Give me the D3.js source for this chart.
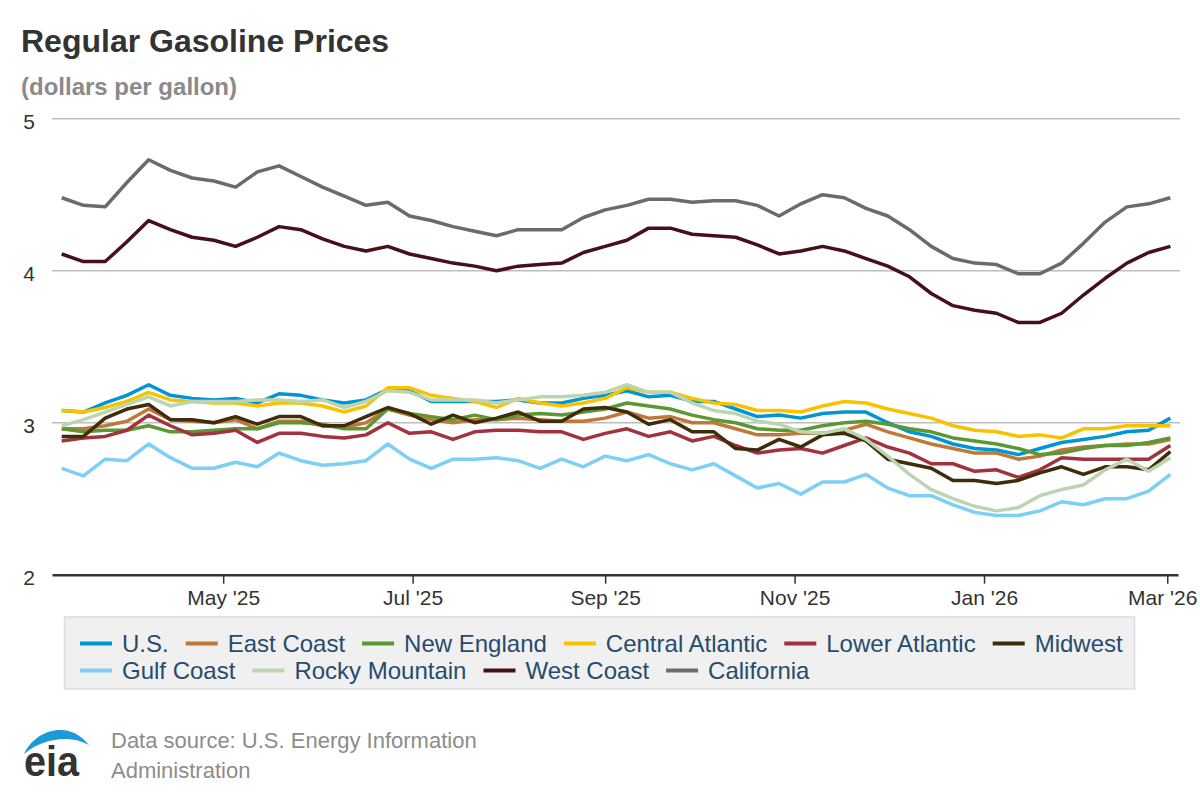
<!DOCTYPE html>
<html>
<head>
<meta charset="utf-8">
<script src="https://cdn.jsdelivr.net/npm/d3@7"></script>
<style>
  body { margin: 0; background: #fff; }
  svg { display: block; font-family: "Liberation Sans", Arial, sans-serif; }
</style>
</head>
<body>
<div class="chart"></div>
<script>
// weekly dates (Mondays)
var weeks = ["2025-03-10","2025-03-17","2025-03-24","2025-03-31","2025-04-07","2025-04-14","2025-04-21","2025-04-28",
  "2025-05-05","2025-05-12","2025-05-19","2025-05-26","2025-06-02","2025-06-09","2025-06-16","2025-06-23","2025-06-30",
  "2025-07-07","2025-07-14","2025-07-21","2025-07-28","2025-08-04","2025-08-11","2025-08-18","2025-08-25",
  "2025-09-01","2025-09-08","2025-09-15","2025-09-22","2025-09-29","2025-10-06","2025-10-13","2025-10-20","2025-10-27",
  "2025-11-03","2025-11-10","2025-11-17","2025-11-24","2025-12-01","2025-12-08","2025-12-15","2025-12-22","2025-12-29",
  "2026-01-05","2026-01-12","2026-01-19","2026-01-26","2026-02-02","2026-02-09","2026-02-16","2026-02-23","2026-03-02"];

var usPrices = [3.08,3.07,3.13,3.18,3.25,3.18,3.16,3.15,3.16,3.13,3.19,3.18,3.15,3.13,3.15,3.22,3.21,3.14,3.14,3.14,3.14,3.15,3.13,3.13,3.16,3.18,
  3.21,3.17,3.18,3.14,3.14,3.09,3.04,3.05,3.03,3.06,3.07,3.07,3.00,2.94,2.91,2.86,2.83,2.82,2.79,2.83,2.87,2.89,2.91,2.94,2.95,3.03];
var eastCoast = [2.96,2.96,2.98,3.01,3.09,3.02,3.01,3.00,3.02,2.96,3.01,3.01,2.98,2.97,3.00,3.09,3.05,3.02,3.00,3.02,3.02,3.03,3.02,3.01,3.01,3.03,
  3.07,3.03,3.04,3.00,3.00,2.96,2.92,2.92,2.93,2.93,2.95,2.99,2.94,2.90,2.86,2.83,2.80,2.80,2.76,2.78,2.82,2.84,2.85,2.86,2.86,2.89];
var newEngland = [2.96,2.94,2.95,2.95,2.98,2.94,2.94,2.95,2.96,2.96,3.00,3.00,2.99,2.96,2.96,3.09,3.06,3.04,3.02,3.05,3.02,3.05,3.06,3.05,3.07,3.09,
  3.13,3.11,3.09,3.05,3.02,3.00,2.96,2.95,2.95,2.98,3.00,3.01,2.99,2.96,2.94,2.90,2.88,2.86,2.83,2.79,2.80,2.83,2.85,2.85,2.87,2.90];
var centralAtlantic = [3.08,3.07,3.10,3.14,3.20,3.15,3.14,3.13,3.13,3.11,3.13,3.13,3.11,3.07,3.11,3.23,3.23,3.18,3.16,3.14,3.10,3.16,3.13,3.11,3.13,3.16,
  3.23,3.20,3.20,3.16,3.13,3.12,3.08,3.08,3.07,3.11,3.14,3.13,3.09,3.06,3.03,2.98,2.95,2.94,2.91,2.92,2.90,2.96,2.96,2.98,2.98,2.98];
var lowerAtlantic = [2.88,2.90,2.91,2.95,3.05,2.98,2.92,2.93,2.95,2.87,2.93,2.93,2.91,2.90,2.92,3.00,2.93,2.94,2.89,2.94,2.95,2.95,2.94,2.94,2.89,2.93,
  2.96,2.91,2.94,2.88,2.91,2.85,2.80,2.82,2.83,2.80,2.85,2.90,2.84,2.80,2.73,2.73,2.68,2.69,2.64,2.69,2.77,2.76,2.76,2.76,2.76,2.85];
var midwest = [2.91,2.91,3.03,3.09,3.12,3.02,3.02,3.00,3.04,2.99,3.04,3.04,2.98,2.98,3.04,3.10,3.06,2.99,3.05,3.00,3.03,3.07,3.01,3.01,3.09,3.10,
  3.07,2.99,3.02,2.94,2.94,2.83,2.82,2.89,2.84,2.92,2.93,2.88,2.76,2.73,2.70,2.62,2.62,2.60,2.62,2.67,2.71,2.66,2.71,2.71,2.69,2.81];
var gulfCoast = [2.70,2.65,2.76,2.75,2.86,2.77,2.70,2.70,2.74,2.71,2.80,2.75,2.72,2.73,2.75,2.86,2.76,2.70,2.76,2.76,2.77,2.75,2.70,2.76,2.71,2.78,
  2.75,2.79,2.73,2.69,2.73,2.65,2.57,2.60,2.53,2.61,2.61,2.66,2.57,2.52,2.52,2.46,2.41,2.39,2.39,2.42,2.48,2.46,2.50,2.50,2.55,2.66];
var rockyMountain = [2.98,3.02,3.07,3.12,3.17,3.11,3.14,3.14,3.14,3.15,3.15,3.14,3.15,3.10,3.14,3.21,3.20,3.15,3.15,3.15,3.13,3.15,3.17,3.17,3.18,3.20,
  3.25,3.20,3.20,3.13,3.08,3.06,3.01,2.99,2.94,2.93,2.96,2.89,2.78,2.66,2.56,2.50,2.45,2.42,2.44,2.52,2.56,2.59,2.69,2.76,2.68,2.77];
var westCoast = [4.11,4.06,4.06,4.19,4.33,4.27,4.22,4.20,4.16,4.22,4.29,4.27,4.21,4.16,4.13,4.16,4.11,4.08,4.05,4.03,4.00,4.03,4.04,4.05,4.12,4.16,
  4.20,4.28,4.28,4.24,4.23,4.22,4.17,4.11,4.13,4.16,4.13,4.08,4.03,3.96,3.85,3.77,3.74,3.72,3.66,3.66,3.72,3.84,3.95,4.05,4.12,4.16];
var california = [4.48,4.43,4.42,4.58,4.73,4.66,4.61,4.59,4.55,4.65,4.69,4.62,4.55,4.49,4.43,4.45,4.36,4.33,4.29,4.26,4.23,4.27,4.27,4.27,4.35,4.40,
  4.43,4.47,4.47,4.45,4.46,4.46,4.43,4.36,4.44,4.50,4.48,4.41,4.36,4.27,4.16,4.08,4.05,4.04,3.98,3.98,4.05,4.18,4.32,4.42,4.44,4.48];

var seriesNames = ["U.S.", "East Coast", "New England", "Central Atlantic", "Lower Atlantic", "Midwest",
  "Gulf Coast", "Rocky Mountain", "West Coast", "California"];
var seriesValues = [usPrices, eastCoast, newEngland, centralAtlantic, lowerAtlantic, midwest,
  gulfCoast, rockyMountain, westCoast, california];
var seriesColors = ["#0096d6", "#c0783a", "#5b9834", "#f7c300", "#a3323f", "#3e2d08",
  "#7ccff5", "#bcd5b0", "#46101a", "#6b6b6b"];

var yTicks = [2, 3, 4, 5];
var xTicks = ["2025-05-01", "2025-07-01", "2025-09-01", "2025-11-01", "2026-01-01", "2026-03-01"];

// SVG container
var svgWidth = 1200;
var svgHeight = 800;

var svg = d3.select(".chart")
  .append("svg")
  .attr("width", svgWidth)
  .attr("height", svgHeight);

var parseDate = d3.utcParse("%Y-%m-%d");
var dates = weeks.map(parseDate);

// scales
var xScale = d3.scaleUtc()
  .domain([Date.UTC(2025, 2, 6, 21), Date.UTC(2026, 2, 4, 11)])
  .range([52, 1178]);

var yScale = d3.scaleLinear()
  .domain([2, 5])
  .range([574.7, 118.7]);

// titles
svg.append("text")
  .attr("x", 21)
  .attr("y", 51.5)
  .attr("font-size", "32px")
  .attr("font-weight", "bold")
  .attr("fill", "#333")
  .text("Regular Gasoline Prices");

svg.append("text")
  .attr("x", 21)
  .attr("y", 95)
  .attr("font-size", "24px")
  .attr("font-weight", "bold")
  .attr("fill", "#8a8a8a")
  .text("(dollars per gallon)");

// gridlines + y labels
svg.append("g").selectAll("line")
  .data(yTicks.filter(d => d > 2))
  .enter()
  .append("line")
  .attr("x1", 52)
  .attr("x2", 1180)
  .attr("y1", d => yScale(d))
  .attr("y2", d => yScale(d))
  .attr("stroke", "#bdbdbd")
  .attr("stroke-width", 1.5);

svg.append("g").selectAll("text")
  .data(yTicks)
  .enter()
  .append("text")
  .attr("x", 35)
  .attr("y", d => yScale(d) + 10.5)
  .attr("text-anchor", "end")
  .attr("font-size", "21px")
  .attr("fill", "#333")
  .text(d => d);

// x axis
var xAxis = d3.axisBottom(xScale)
  .tickValues(xTicks.map(parseDate))
  .tickFormat(d3.utcFormat("%b '%y"))
  .tickSize(9)
  .tickSizeOuter(0);

var xAxisGroup = svg.append("g")
  .attr("transform", `translate(0, ${yScale(2)})`)
  .call(xAxis);

xAxisGroup.select(".domain")
  .attr("stroke", "#333")
  .attr("stroke-width", 2.5);
xAxisGroup.selectAll(".tick line")
  .attr("stroke", "#333")
  .attr("stroke-width", 1.5);
xAxisGroup.selectAll(".tick text")
  .attr("y", 15)
  .attr("font-family", "Liberation Sans, Arial, sans-serif")
  .attr("font-size", "21px")
  .attr("fill", "#333");

// keep the last label inside the page
xAxisGroup.selectAll(".tick text")
  .filter((d, i) => i === xTicks.length - 1)
  .attr("dx", -5);

// lines
var line = d3.line()
  .x((d, i) => xScale(dates[i]))
  .y(d => yScale(d));

svg.append("g").selectAll("path")
  .data(seriesValues)
  .enter()
  .append("path")
  .attr("d", d => line(d))
  .attr("fill", "none")
  .attr("stroke", (d, i) => seriesColors[i])
  .attr("stroke-width", 3.5)
  .attr("stroke-linejoin", "round");

// legend
svg.append("rect")
  .attr("x", 64.5)
  .attr("y", 617)
  .attr("width", 1070)
  .attr("height", 72)
  .attr("fill", "#f0f0f0")
  .attr("stroke", "#dcdcdc")
  .attr("stroke-width", 1.5);

var legendRows = [[0, 1, 2, 3, 4, 5], [6, 7, 8, 9]];
var rowBaselines = [651.5, 678.5];

legendRows.forEach(function(row, r) {
  var x = 80;
  row.forEach(function(k) {
    svg.append("line")
      .attr("x1", x)
      .attr("x2", x + 32)
      .attr("y1", rowBaselines[r] - 8)
      .attr("y2", rowBaselines[r] - 8)
      .attr("stroke", seriesColors[k])
      .attr("stroke-width", 4);
    var label = svg.append("text")
      .attr("x", x + 42)
      .attr("y", rowBaselines[r])
      .attr("font-size", "24px")
      .attr("fill", "#274b6d")
      .text(seriesNames[k]);
    x = x + 42 + label.node().getComputedTextLength() + 17;
  });
});

// eia logo
var logo = svg.append("g");
logo.append("path")
  .attr("d", "M24,754 C34,731 68,718 89,745 C72,735 44,737 24,754 Z")
  .attr("fill", "#1a9ad6");
logo.append("text")
  .attr("x", 24)
  .attr("y", 776)
  .attr("font-size", "42px")
  .attr("font-weight", "bold")
  .attr("fill", "#333")
  .attr("textLength", 55)
  .attr("lengthAdjust", "spacingAndGlyphs")
  .text("eia");

// source note
svg.append("text")
  .attr("x", 111)
  .attr("y", 748)
  .attr("font-size", "22px")
  .attr("fill", "#8c8c8c")
  .text("Data source: U.S. Energy Information");

svg.append("text")
  .attr("x", 111)
  .attr("y", 778)
  .attr("font-size", "22px")
  .attr("fill", "#8c8c8c")
  .text("Administration");
</script>
</body>
</html>
